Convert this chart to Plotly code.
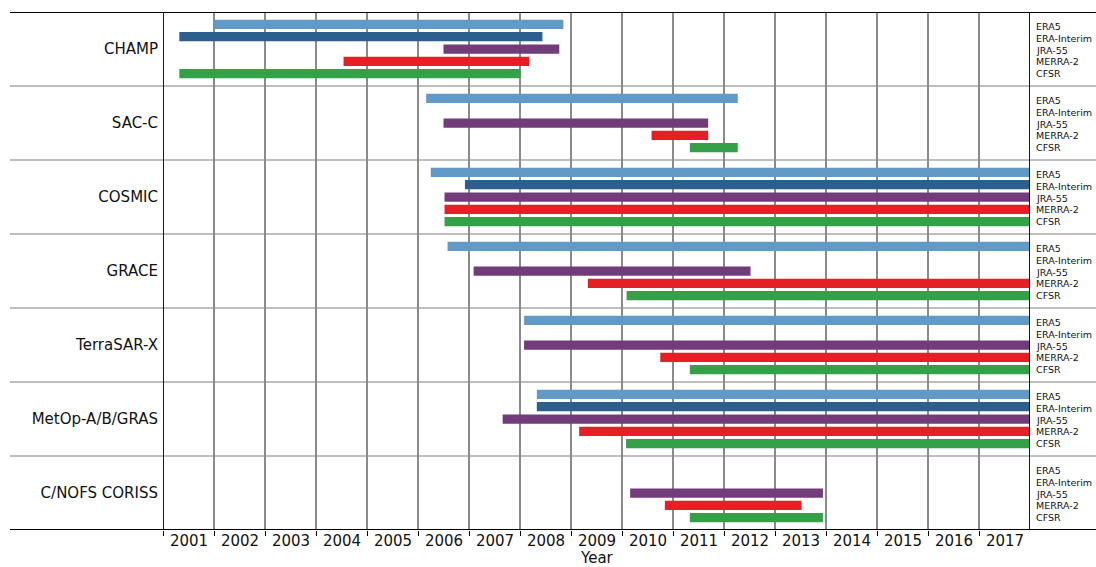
import plotly.graph_objects as go

satellites = ["CHAMP", "SAC-C", "COSMIC", "GRACE", "TerraSAR-X", "MetOp-A/B/GRAS", "C/NOFS CORISS"]
reanalyses = ["ERA5", "ERA-Interim", "JRA-55", "MERRA-2", "CFSR"]
years = list(range(2001, 2018))
year_labels = [str(y) for y in years]

# coverage start / end (fractional year) per satellite; None = no coverage
era5_start = [2002.0, 2006.16, 2006.25, 2006.58, 2008.08, 2008.33, None]
era5_end = [2008.85, 2012.27, 2018.0, 2018.0, 2018.0, 2018.0, None]
erai_start = [2001.32, None, 2006.92, None, None, 2008.33, None]
erai_end = [2008.44, None, 2018.0, None, None, 2018.0, None]
jra_start = [2006.50, 2006.50, 2006.52, 2007.09, 2008.08, 2007.66, 2010.16]
jra_end = [2008.77, 2011.69, 2018.0, 2012.52, 2018.0, 2018.0, 2013.94]
merra_start = [2004.54, 2010.58, 2006.52, 2009.33, 2010.75, 2009.16, 2010.84]
merra_end = [2008.18, 2011.69, 2018.0, 2018.0, 2018.0, 2018.0, 2013.52]
cfsr_start = [2001.32, 2011.33, 2006.52, 2010.09, 2011.33, 2010.08, 2011.33]
cfsr_end = [2008.01, 2012.27, 2018.0, 2018.0, 2018.0, 2018.0, 2013.94]

starts = [era5_start, erai_start, jra_start, merra_start, cfsr_start]
ends = [era5_end, erai_end, jra_end, merra_end, cfsr_end]
colors = ["#6199C7", "#2C5F8E", "#723B7A", "#E41F26", "#34A149"]

FONT = "DejaVu Sans"
fig = go.Figure()

nsat = len(satellites)
for k, name in enumerate(reanalyses):
    ys, bases, lens = [], [], []
    for i in range(nsat):
        s, e = starts[k][i], ends[k][i]
        if s is None:
            continue
        ys.append(i + (k + 1) / 6)
        bases.append(s)
        lens.append(e - s)
    fig.add_trace(go.Bar(
        y=ys, x=lens, base=bases, orientation="h", width=0.125,
        marker=dict(color=colors[k], line=dict(width=0)),
        name=name, showlegend=False, hoverinfo="skip"))

shapes = []
# horizontal separators between satellite groups
for i in range(1, nsat):
    shapes.append(dict(type="line", xref="paper", yref="y", x0=-0.1765, x1=1.0761,
                       y0=i, y1=i, line=dict(color="#A8A8A8", width=1.5), layer="below"))
# top & bottom black lines
for yv in [0, nsat]:
    shapes.append(dict(type="line", xref="paper", yref="y", x0=-0.1765, x1=1.0761,
                       y0=yv, y1=yv, line=dict(color="black", width=1.8), layer="above"))
# left & right black lines
for xv in [years[0], years[-1] + 1]:
    shapes.append(dict(type="line", xref="x", yref="y", x0=xv, x1=xv,
                       y0=0, y1=nsat, line=dict(color="black", width=1.8), layer="above"))

annotations = []
for i in range(nsat):
    for k, name in enumerate(reanalyses):
        annotations.append(dict(xref="paper", yref="y", x=1.0,
                                y=i + 0.5 + ((k - 2) * 11.8 + 1.0) / 74,
                                text=name, showarrow=False, xanchor="left", yanchor="middle",
                                xshift=4, font=dict(family=FONT, size=9.5, color="#111")))
# x-axis title
annotations.append(dict(xref="paper", yref="paper", x=0.5, y=0, yshift=-28,
                        text="Year", showarrow=False, xanchor="center", yanchor="middle",
                        font=dict(family=FONT, size=15, color="#111")))

fig.update_layout(
    width=1096, height=567,
    margin=dict(l=163, r=66, t=12, b=37, autoexpand=False),
    plot_bgcolor="white", paper_bgcolor="white",
    barmode="overlay",
    shapes=shapes, annotations=annotations,
    font=dict(family=FONT, color="black"),
    xaxis=dict(range=[years[0], years[-1] + 1], tickmode="array", tickvals=years,
               ticktext=year_labels, ticklabelshift=26, ticklabelstandoff=-8,
               ticks="outside", ticklen=5,
               tickwidth=1.2, tickcolor="black", showgrid=True, gridcolor="#8A8A8A",
               gridwidth=1.5, zeroline=False, showline=False,
               tickfont=dict(family=FONT, size=15, color="#111"),
               automargin=False),
    yaxis=dict(range=[nsat, 0], tickmode="array", tickvals=[i + 0.5 for i in range(nsat)],
               ticktext=satellites, ticks="", showgrid=False, zeroline=False, showline=False,
               tickfont=dict(family=FONT, size=15, color="#111"), ticklabelstandoff=4,
               automargin=False),
)

fig.write_html("out.html")
